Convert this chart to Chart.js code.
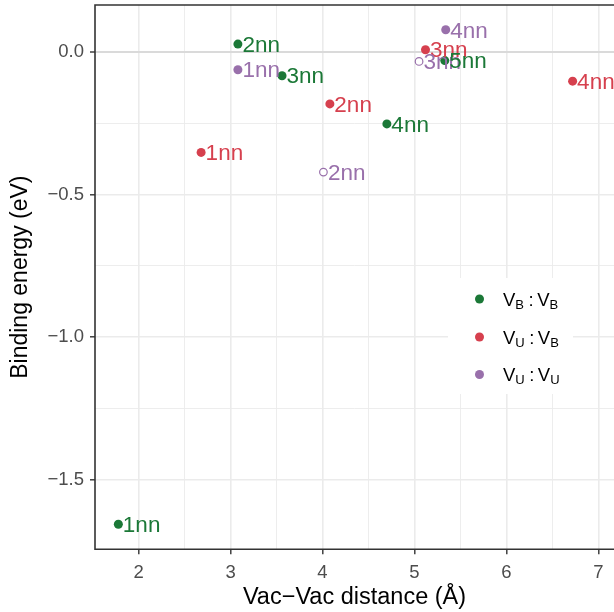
<!DOCTYPE html>
<html>
<head>
<meta charset="utf-8">
<script src="https://cdn.jsdelivr.net/npm/chart.js@4"></script>
<style>
html,body{margin:0;padding:0;background:#fff;overflow:hidden;}
canvas{display:block;}
</style>
</head>
<body>
<canvas id="c" width="614" height="612"></canvas>
<script>
// ---- data ----
const vbvbX = [1.78, 3.08, 3.56, 4.70, 5.33];
const vbvbY = [-1.656, 0.028, -0.083, -0.252, -0.030];
const vbvbLabels = ['1nn', '2nn', '3nn', '4nn', '5nn'];

const vuvbX = [2.68, 4.08, 5.12, 6.72];
const vuvbY = [-0.352, -0.182, 0.008, -0.102];
const vuvbLabels = ['1nn', '2nn', '3nn', '4nn'];

const vuvuX = [3.08, 4.01, 5.05, 5.34];
const vuvuY = [-0.062, -0.421, -0.033, 0.078];
const vuvuLabels = ['1nn', '2nn', '3nn', '4nn'];
const vuvuHollow = [false, true, true, false];

const seriesNames = [['V', 'B', 'V', 'B'], ['V', 'U', 'V', 'B'], ['V', 'U', 'V', 'U']];
const xTickValues = [2, 3, 4, 5, 6, 7];
const yTickValues = [-1.5, -1.0, -0.5, 0.0];
const xTitle = 'Vac\u2212Vac distance (\u00C5)';
const yTitle = 'Binding energy (eV)';

const GREEN = '#1B7837', RED = '#D6404E', PURPLE = '#9970AB';
const FONT = '"Liberation Sans", Arial, Helvetica, sans-serif';

function pts(xs, ys) { return xs.map((x, i) => ({x: x, y: ys[i]})); }

const datasets = [
  {label: 'VB:VB', data: pts(vbvbX, vbvbY), labels: vbvbLabels, color: GREEN,
   backgroundColor: GREEN, borderColor: GREEN, pointRadius: 4.5, pointBorderWidth: 0},
  {label: 'VU:VB', data: pts(vuvbX, vuvbY), labels: vuvbLabels, color: RED,
   backgroundColor: RED, borderColor: RED, pointRadius: 4.5, pointBorderWidth: 0},
  {label: 'VU:VU', data: pts(vuvuX, vuvuY), labels: vuvuLabels, color: PURPLE,
   backgroundColor: vuvuHollow.map(h => h ? '#ffffff' : PURPLE),
   borderColor: PURPLE,
   pointRadius: vuvuHollow.map(h => h ? 3.8 : 4.5),
   pointBorderWidth: vuvuHollow.map(h => h ? 1.2 : 0)}
];

const isInt = v => Math.abs(v - Math.round(v)) < 1e-6;
const isHalf = v => Math.abs(v * 2 - Math.round(v * 2)) < 1e-6;

const labelPlugin = {
  id: 'ptLabels',
  afterDatasetsDraw(chart) {
    const ctx = chart.ctx;
    ctx.save();
    ctx.font = '22.5px ' + FONT;
    ctx.textBaseline = 'middle';
    ctx.textAlign = 'left';
    const order = [1, 2, 0];
    order.forEach(di => {
      const ds = chart.data.datasets[di];
      const meta = chart.getDatasetMeta(di);
      ctx.fillStyle = ds.color;
      meta.data.forEach((el, i) => {
        ctx.fillText(ds.labels[i], el.x + 4.5, el.y + 1.5);
      });
    });
    ctx.restore();
  }
};

const framePlugin = {
  id: 'frame',
  afterDraw(chart) {
    const {ctx, chartArea: a} = chart;
    ctx.save();
    ctx.strokeStyle = '#333333';
    ctx.lineWidth = 1.6;
    ctx.beginPath();
    ctx.moveTo(a.right + 2, a.top);
    ctx.lineTo(a.left, a.top);
    ctx.lineTo(a.left, a.bottom);
    ctx.lineTo(a.right + 2, a.bottom);
    ctx.stroke();

    // legend
    const lx = 448, ly = 278, lw = 125, lh = 116;
    ctx.fillStyle = '#ffffff';
    ctx.fillRect(lx, ly, lw, lh);
    const colors = [GREEN, RED, PURPLE];
    const rows = [299, 337, 374.5];
    rows.forEach((y, k) => {
      ctx.fillStyle = colors[k];
      ctx.beginPath();
      ctx.arc(479.5, y, 4.5, 0, Math.PI * 2);
      ctx.fill();
      const p = seriesNames[k];
      let x = 503;
      ctx.fillStyle = '#000000';
      ctx.textBaseline = 'alphabetic';
      ctx.textAlign = 'left';
      const base = y + 6.5;
      ctx.font = '18.5px ' + FONT;
      ctx.fillText(p[0], x, base); x += ctx.measureText(p[0]).width;
      ctx.font = '13px ' + FONT;
      ctx.fillText(p[1], x, base + 3); x += ctx.measureText(p[1]).width;
      x += 4.5;
      ctx.font = '18.5px ' + FONT;
      ctx.fillText(':', x, base); x += ctx.measureText(':').width + 3.5;
      ctx.fillText(p[2], x, base); x += ctx.measureText(p[2]).width;
      ctx.font = '13px ' + FONT;
      ctx.fillText(p[3], x, base + 3);
    });
    ctx.restore();
  }
};

new Chart(document.getElementById('c'), {
  type: 'scatter',
  data: {datasets: datasets},
  options: {
    responsive: false,
    animation: false,
    devicePixelRatio: 1,
    layout: {autoPadding: false, padding: {top: 5, right: 0, bottom: 0, left: 0}},
    plugins: {legend: {display: false}, tooltip: {enabled: false}},
    scales: {
      x: {
        type: 'linear', min: 1.526, max: 7.17,
        afterFit(s) { s.height = 612 - 549.3; s.paddingLeft = 0; s.paddingRight = 0; },
        border: {display: false},
        grid: {
          color: '#EBEBEB',
          lineWidth: c => isInt(c.tick.value) ? 1.6 : 0.9,
          tickColor: c => isInt(c.tick.value) ? '#333333' : 'rgba(0,0,0,0)',
          tickLength: 5, tickWidth: 1.4
        },
        ticks: {
          stepSize: 0.5, includeBounds: false, autoSkip: false, maxRotation: 0,
          padding: 8, color: '#4D4D4D', font: {family: FONT, size: 18.5},
          callback: v => xTickValues.some(t => Math.abs(t - v) < 1e-6) ? String(Math.round(v)) : ''
        },
        title: {display: true, text: xTitle, color: '#000000',
          font: {family: FONT, size: 23.5}, padding: {top: 0, bottom: 0}}
      },
      y: {
        type: 'linear', min: -1.744, max: 0.165,
        afterFit(s) { s.width = 95; s.paddingTop = 0; s.paddingBottom = 0; },
        border: {display: false},
        grid: {
          color: c => Math.abs(c.tick.value) < 1e-6 ? '#DADADA' : '#EBEBEB',
          lineWidth: c => Math.abs(c.tick.value) < 1e-6 ? 2 : (isHalf(c.tick.value) ? 1.6 : 0.9),
          tickColor: c => isHalf(c.tick.value) ? '#333333' : 'rgba(0,0,0,0)',
          tickLength: 5, tickWidth: 1.4
        },
        ticks: {
          stepSize: 0.25, includeBounds: false, autoSkip: false,
          padding: 6, color: '#4D4D4D', font: {family: FONT, size: 18.5},
          callback: v => yTickValues.some(t => Math.abs(t - v) < 1e-6) ? v.toFixed(1).replace('-', '\u2212') : ''
        },
        title: {display: true, text: yTitle, color: '#000000',
          font: {family: FONT, size: 23}, padding: {top: 7, bottom: 0}}
      }
    }
  },
  plugins: [labelPlugin, framePlugin]
});
</script>
</body>
</html>
